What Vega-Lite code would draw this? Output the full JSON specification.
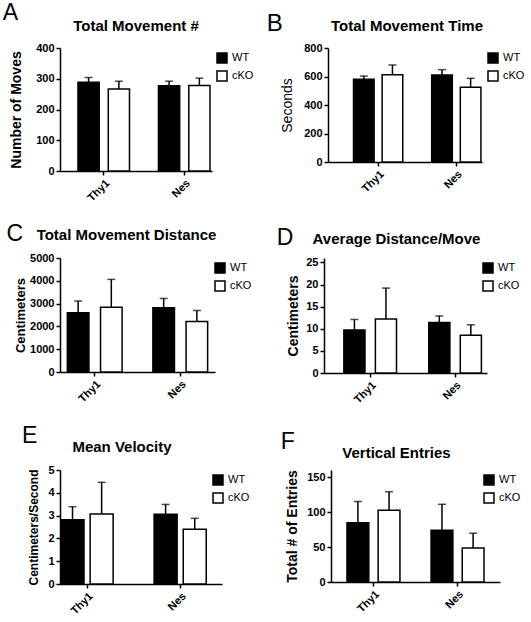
{
  "$schema": "https://vega.github.io/schema/vega-lite/v6.json",
  "padding": {"left": 2, "top": 2, "right": 0, "bottom": 0},
  "background": "white",
  "datasets": {
    "d": [
      {"panel": "A", "genotype": "Thy1", "group": "WT", "mean": 289, "upper": 304},
      {"panel": "A", "genotype": "Thy1", "group": "cKO", "mean": 267, "upper": 292},
      {"panel": "A", "genotype": "Nes", "group": "WT", "mean": 277, "upper": 292},
      {"panel": "A", "genotype": "Nes", "group": "cKO", "mean": 278, "upper": 302},
      {"panel": "B", "genotype": "Thy1", "group": "WT", "mean": 580, "upper": 603},
      {"panel": "B", "genotype": "Thy1", "group": "cKO", "mean": 613, "upper": 681},
      {"panel": "B", "genotype": "Nes", "group": "WT", "mean": 610, "upper": 648},
      {"panel": "B", "genotype": "Nes", "group": "cKO", "mean": 524, "upper": 587},
      {"panel": "C", "genotype": "Thy1", "group": "WT", "mean": 2595, "upper": 3109},
      {"panel": "C", "genotype": "Thy1", "group": "cKO", "mean": 2845, "upper": 4062},
      {"panel": "C", "genotype": "Nes", "group": "WT", "mean": 2815, "upper": 3226},
      {"panel": "C", "genotype": "Nes", "group": "cKO", "mean": 2214, "upper": 2698},
      {"panel": "D", "genotype": "Thy1", "group": "WT", "mean": 9.7, "upper": 12.1},
      {"panel": "D", "genotype": "Thy1", "group": "cKO", "mean": 12.2, "upper": 19.2},
      {"panel": "D", "genotype": "Nes", "group": "WT", "mean": 11.4, "upper": 12.9},
      {"panel": "D", "genotype": "Nes", "group": "cKO", "mean": 8.55, "upper": 10.9},
      {"panel": "E", "genotype": "Thy1", "group": "WT", "mean": 2.82, "upper": 3.39},
      {"panel": "E", "genotype": "Thy1", "group": "cKO", "mean": 3.07, "upper": 4.46},
      {"panel": "E", "genotype": "Nes", "group": "WT", "mean": 3.06, "upper": 3.49},
      {"panel": "E", "genotype": "Nes", "group": "cKO", "mean": 2.40, "upper": 2.88},
      {"panel": "F", "genotype": "Thy1", "group": "WT", "mean": 84.8, "upper": 115},
      {"panel": "F", "genotype": "Thy1", "group": "cKO", "mean": 102.5, "upper": 129},
      {"panel": "F", "genotype": "Nes", "group": "WT", "mean": 74, "upper": 111},
      {"panel": "F", "genotype": "Nes", "group": "cKO", "mean": 48.4, "upper": 69.7}
    ]
  },
  "config": {
    "font": "Liberation Sans",
    "view": {"stroke": null},
    "axis": {
      "domainColor": "black", "domainWidth": 1.5, "tickColor": "black", "tickWidth": 1.5, "tickSize": 4,
      "labelColor": "black", "labelFontSize": 11, "labelFontWeight": "bold", "labelFont": "Liberation Sans",
      "titleFont": "Liberation Sans", "titleFontSize": 14, "titleFontWeight": "bold", "titleColor": "black",
      "grid": false, "labelPadding": 2, "labelOverlap": false
    },
    "title": {"font": "Liberation Sans", "color": "black"},
    "legend": {
      "labelFontSize": 11, "labelFont": "Liberation Sans", "labelColor": "black", "symbolType": "square",
      "symbolSize": 100, "symbolStrokeColor": "black", "symbolStrokeWidth": 1.5, "rowPadding": 2,
      "padding": 4, "offset": 0, "labelOffset": 4
    }
  },
  "resolve": {"scale": {"fill": "independent", "xOffset": "independent"}},
  "spacing": 20,
  "vconcat": [
    {
      "spacing": 8,
      "align": "none",
      "resolve": {"scale": {"fill": "independent", "xOffset": "independent"}},
      "hconcat": [
        {
          "title": {"text": "A", "anchor": "start", "frame": "bounds", "fontSize": 23, "fontWeight": "normal", "offset": -24, "dx": -7, "baseline": "alphabetic"},
          "resolve": {"scale": {"fill": "independent", "xOffset": "independent"}},
          "vconcat": [
            {
              "title": {"text": "Total Movement #", "fontSize": 15, "fontWeight": "bold", "anchor": "middle", "offset": -4, "baseline": "alphabetic"},
              "width": 152, "height": 123,
              "data": {"name": "d"},
              "transform": [{"filter": "datum.panel === 'A'"}],
              "resolve": {"axis": {"y": "independent"}},
              "encoding": {
                "x": {"field": "genotype", "type": "nominal", "sort": ["Thy1", "Nes"], "scale": {"paddingInner": 0.36, "paddingOuter": 0.124, "align": 0.9}, "axis": {"title": null, "labelAngle": -45}},
                "xOffset": {"field": "group", "type": "nominal", "sort": ["WT", "cKO"], "scale": {"paddingInner": 0.3}}
              },
              "layer": [
                {"mark": {"type": "bar", "stroke": "black", "strokeWidth": 1.5},
                 "encoding": {
                   "y": {"field": "mean", "type": "quantitative", "scale": {"domain": [0, 400]}, "axis": {"values": [0, 100, 200, 300, 400], "format": "d", "labelOverlap": false, "title": "Number of Moves", "titlePadding": 12}},
                   "fill": {"field": "group", "type": "nominal", "scale": {"domain": ["WT", "cKO"], "range": ["black", "white"]}, "legend": {"title": null, "offset": 0}}
                 }},
                {"mark": {"type": "rule", "strokeWidth": 1.5, "color": "black"},
                 "encoding": {"y": {"field": "mean", "type": "quantitative", "axis": null}, "y2": {"field": "upper"}}},
                {"mark": {"type": "tick", "size": 8, "thickness": 1.5, "color": "black"},
                 "encoding": {"y": {"field": "upper", "type": "quantitative", "axis": null}}}
              ]
            }
          ]
        },
        {
          "title": {"text": "B", "anchor": "start", "frame": "bounds", "fontSize": 24, "fontWeight": "normal", "offset": -36, "dx": -14, "baseline": "alphabetic"},
          "resolve": {"scale": {"fill": "independent", "xOffset": "independent"}},
          "vconcat": [
            {
              "title": {"text": "Total Movement Time", "fontSize": 15, "fontWeight": "bold", "anchor": "middle", "offset": -4, "dx": 2, "baseline": "alphabetic"},
              "width": 154, "height": 114,
              "data": {"name": "d"},
              "transform": [{"filter": "datum.panel === 'B'"}],
              "resolve": {"axis": {"y": "independent"}},
              "encoding": {
                "x": {"field": "genotype", "type": "nominal", "sort": ["Thy1", "Nes"], "scale": {"paddingInner": 0.37, "paddingOuter": 0.17, "align": 0.96}, "axis": {"title": null, "labelAngle": -45}},
                "xOffset": {"field": "group", "type": "nominal", "sort": ["WT", "cKO"], "scale": {"paddingInner": 0.28}}
              },
              "layer": [
                {"mark": {"type": "bar", "stroke": "black", "strokeWidth": 1.5},
                 "encoding": {
                   "y": {"field": "mean", "type": "quantitative", "scale": {"domain": [0, 800]}, "axis": {"values": [0, 200, 400, 600, 800], "format": "d", "labelOverlap": false, "title": "Seconds", "titleFontWeight": "normal", "titlePadding": 9}},
                   "fill": {"field": "group", "type": "nominal", "scale": {"domain": ["WT", "cKO"], "range": ["black", "white"]}, "legend": {"title": null, "offset": 1}}
                 }},
                {"mark": {"type": "rule", "strokeWidth": 1.5, "color": "black"},
                 "encoding": {"y": {"field": "mean", "type": "quantitative", "axis": null}, "y2": {"field": "upper"}}},
                {"mark": {"type": "tick", "size": 8, "thickness": 1.5, "color": "black"},
                 "encoding": {"y": {"field": "upper", "type": "quantitative", "axis": null}}}
              ]
            }
          ]
        }
      ]
    },
    {
      "spacing": 20,
      "resolve": {"scale": {"fill": "independent", "xOffset": "independent"}},
      "vconcat": [
        {
          "spacing": 20,
          "align": "none",
          "resolve": {"scale": {"fill": "independent", "xOffset": "independent"}},
          "hconcat": [
            {
              "title": {"text": "C", "anchor": "start", "frame": "bounds", "fontSize": 23, "fontWeight": "normal", "offset": -36, "dx": -8, "baseline": "alphabetic"},
              "resolve": {"scale": {"fill": "independent", "xOffset": "independent"}},
              "vconcat": [
                {
                  "title": {"text": "Total Movement Distance", "fontSize": 15, "fontWeight": "bold", "anchor": "middle", "offset": -3, "dx": -11, "baseline": "alphabetic"},
                  "width": 155, "height": 114,
                  "data": {"name": "d"},
                  "transform": [{"filter": "datum.panel === 'C'"}],
                  "resolve": {"axis": {"y": "independent"}},
                  "encoding": {
                    "x": {"field": "genotype", "type": "nominal", "sort": ["Thy1", "Nes"], "scale": {"paddingInner": 0.36, "paddingOuter": 0.086, "align": 0.5}, "axis": {"title": null, "labelAngle": -45}},
                    "xOffset": {"field": "group", "type": "nominal", "sort": ["WT", "cKO"], "scale": {"paddingInner": 0.35}}
                  },
                  "layer": [
                    {"mark": {"type": "bar", "stroke": "black", "strokeWidth": 1.5},
                     "encoding": {
                       "y": {"field": "mean", "type": "quantitative", "scale": {"domain": [0, 5000]}, "axis": {"values": [0, 1000, 2000, 3000, 4000, 5000], "format": "d", "labelOverlap": false, "title": "Centimeters", "titleFontSize": 13, "titlePadding": 2}},
                       "fill": {"field": "group", "type": "nominal", "scale": {"domain": ["WT", "cKO"], "range": ["black", "white"]}, "legend": {"title": null, "offset": -5}}
                     }},
                    {"mark": {"type": "rule", "strokeWidth": 1.5, "color": "black"},
                     "encoding": {"y": {"field": "mean", "type": "quantitative", "axis": null}, "y2": {"field": "upper"}}},
                    {"mark": {"type": "tick", "size": 8, "thickness": 1.5, "color": "black"},
                     "encoding": {"y": {"field": "upper", "type": "quantitative", "axis": null}}}
                  ]
                }
              ]
            },
            {
              "title": {"text": "D", "anchor": "start", "frame": "bounds", "fontSize": 23, "fontWeight": "normal", "offset": -36, "dx": -10, "baseline": "alphabetic"},
              "resolve": {"scale": {"fill": "independent", "xOffset": "independent"}},
              "vconcat": [
                {
                  "title": {"text": "Average Distance/Move", "fontSize": 15, "fontWeight": "bold", "anchor": "middle", "offset": -3, "dx": -9, "baseline": "alphabetic"},
                  "width": 163, "height": 115,
                  "data": {"name": "d"},
                  "transform": [{"filter": "datum.panel === 'D'"}],
                  "resolve": {"axis": {"y": "independent"}},
                  "encoding": {
                    "x": {"field": "genotype", "type": "nominal", "sort": ["Thy1", "Nes"], "scale": {"paddingInner": 0.38, "paddingOuter": 0.15, "align": 0.78}, "axis": {"title": null, "labelAngle": -45}},
                    "xOffset": {"field": "group", "type": "nominal", "sort": ["WT", "cKO"], "scale": {"paddingInner": 0.33}}
                  },
                  "layer": [
                    {"mark": {"type": "bar", "stroke": "black", "strokeWidth": 1.5},
                     "encoding": {
                       "y": {"field": "mean", "type": "quantitative", "scale": {"domain": [0, 25]}, "axis": {"values": [0, 5, 10, 15, 20, 25], "format": "d", "labelOverlap": false, "title": "Centimeters", "titlePadding": 5}},
                       "fill": {"field": "group", "type": "nominal", "scale": {"domain": ["WT", "cKO"], "range": ["black", "white"]}, "legend": {"title": null, "offset": -9}}
                     }},
                    {"mark": {"type": "rule", "strokeWidth": 1.5, "color": "black"},
                     "encoding": {"y": {"field": "mean", "type": "quantitative", "axis": null}, "y2": {"field": "upper"}}},
                    {"mark": {"type": "tick", "size": 8, "thickness": 1.5, "color": "black"},
                     "encoding": {"y": {"field": "upper", "type": "quantitative", "axis": null}}}
                  ]
                }
              ]
            }
          ]
        },
        {
          "spacing": 26,
          "align": "none",
          "resolve": {"scale": {"fill": "independent", "xOffset": "independent"}},
          "hconcat": [
            {
              "title": {"text": "E", "anchor": "start", "frame": "bounds", "fontSize": 23, "fontWeight": "normal", "offset": -26, "dx": -6, "baseline": "alphabetic"},
              "resolve": {"scale": {"fill": "independent", "xOffset": "independent"}},
              "vconcat": [
                {
                  "title": {"text": "Mean Velocity", "fontSize": 15, "fontWeight": "bold", "anchor": "middle", "offset": -3, "dx": -19, "baseline": "alphabetic"},
                  "width": 162, "height": 114,
                  "data": {"name": "d"},
                  "transform": [{"filter": "datum.panel === 'E'"}],
                  "resolve": {"axis": {"y": "independent"}},
                  "encoding": {
                    "x": {"field": "genotype", "type": "nominal", "sort": ["Thy1", "Nes"], "scale": {"paddingInner": 0.44, "paddingOuter": 0.09, "align": 0.06}, "axis": {"title": null, "labelAngle": -45}},
                    "xOffset": {"field": "group", "type": "nominal", "sort": ["WT", "cKO"], "scale": {"paddingInner": 0.21}}
                  },
                  "layer": [
                    {"mark": {"type": "bar", "stroke": "black", "strokeWidth": 1.5},
                     "encoding": {
                       "y": {"field": "mean", "type": "quantitative", "scale": {"domain": [0, 5]}, "axis": {"values": [0, 1, 2, 3, 4, 5], "format": "d", "labelOverlap": false, "title": "Centimeters/Second", "titleFontSize": 12, "titlePadding": 7}},
                       "fill": {"field": "group", "type": "nominal", "scale": {"domain": ["WT", "cKO"], "range": ["black", "white"]}, "legend": {"title": null, "offset": -14}}
                     }},
                    {"mark": {"type": "rule", "strokeWidth": 1.5, "color": "black"},
                     "encoding": {"y": {"field": "mean", "type": "quantitative", "axis": null}, "y2": {"field": "upper"}}},
                    {"mark": {"type": "tick", "size": 8, "thickness": 1.5, "color": "black"},
                     "encoding": {"y": {"field": "upper", "type": "quantitative", "axis": null}}}
                  ]
                }
              ]
            },
            {
              "title": {"text": "F", "anchor": "start", "frame": "bounds", "fontSize": 23, "fontWeight": "normal", "offset": -26, "dx": -5, "baseline": "alphabetic"},
              "resolve": {"scale": {"fill": "independent", "xOffset": "independent"}},
              "vconcat": [
                {
                  "title": {"text": "Vertical Entries", "fontSize": 15, "fontWeight": "bold", "anchor": "middle", "offset": -3, "dx": -19, "baseline": "alphabetic"},
                  "width": 169, "height": 112,
                  "data": {"name": "d"},
                  "transform": [{"filter": "datum.panel === 'F'"}],
                  "resolve": {"axis": {"y": "independent"}},
                  "encoding": {
                    "x": {"field": "genotype", "type": "nominal", "sort": ["Thy1", "Nes"], "scale": {"paddingInner": 0.37, "paddingOuter": 0.19, "align": 0.5}, "axis": {"title": null, "labelAngle": -45}},
                    "xOffset": {"field": "group", "type": "nominal", "sort": ["WT", "cKO"], "scale": {"paddingInner": 0.3}}
                  },
                  "layer": [
                    {"mark": {"type": "bar", "stroke": "black", "strokeWidth": 1.5},
                     "encoding": {
                       "y": {"field": "mean", "type": "quantitative", "scale": {"domain": [0, 150]}, "axis": {"values": [0, 50, 100, 150], "format": "d", "labelOverlap": false, "title": "Total # of Entries", "titlePadding": 7}},
                       "fill": {"field": "group", "type": "nominal", "scale": {"domain": ["WT", "cKO"], "range": ["black", "white"]}, "legend": {"title": null, "offset": -21}}
                     }},
                    {"mark": {"type": "rule", "strokeWidth": 1.5, "color": "black"},
                     "encoding": {"y": {"field": "mean", "type": "quantitative", "axis": null}, "y2": {"field": "upper"}}},
                    {"mark": {"type": "tick", "size": 8, "thickness": 1.5, "color": "black"},
                     "encoding": {"y": {"field": "upper", "type": "quantitative", "axis": null}}}
                  ]
                }
              ]
            }
          ]
        }
      ]
    }
  ]
}
